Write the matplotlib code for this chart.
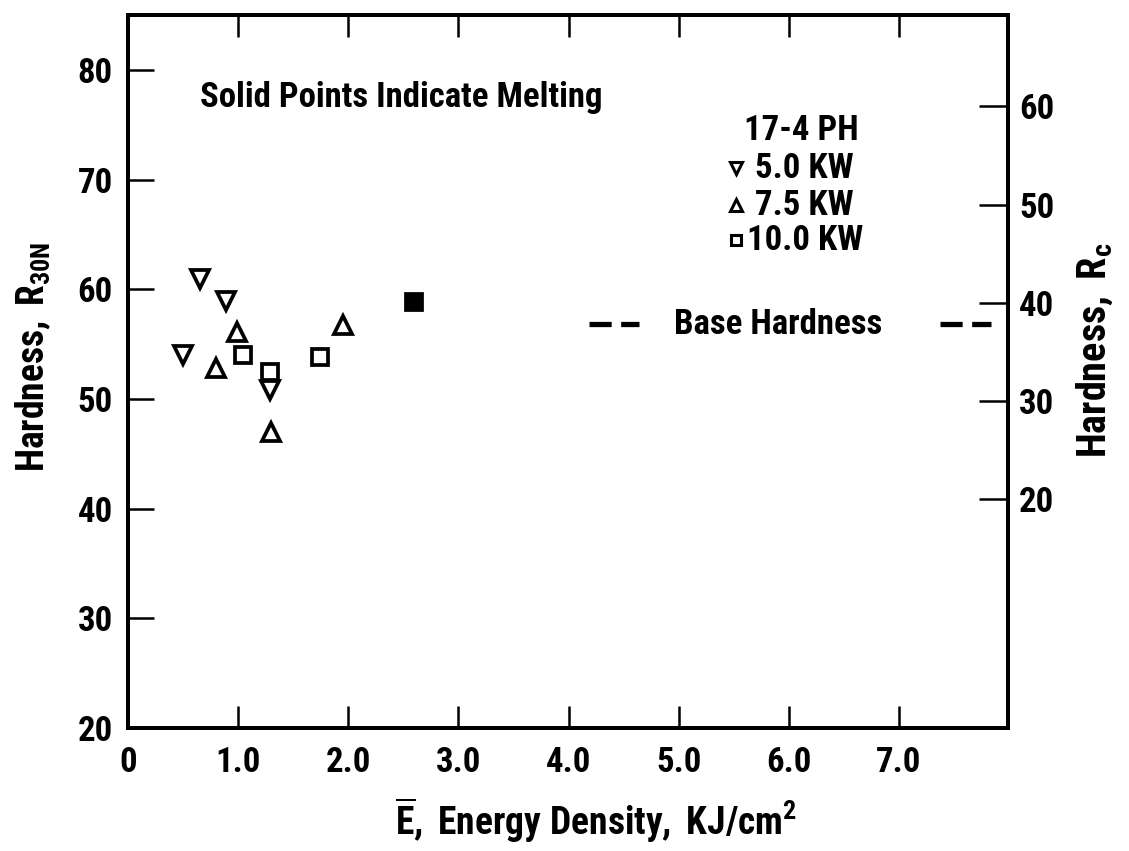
import matplotlib
matplotlib.use("Agg")
import matplotlib.pyplot as plt
from matplotlib import font_manager as fm

# ---------------- data ----------------
kw50_x = [0.50, 0.65, 0.89, 1.29]
kw50_y = [54.0, 60.9, 58.9, 50.8]

kw75_x = [0.80, 0.99, 1.30, 1.95]
kw75_y = [52.8, 56.1, 47.0, 56.7]

kw100_x = [1.04, 1.29, 1.74]
kw100_y = [54.0, 52.5, 53.8]

melt_x = [2.60]
melt_y = [58.8]

base_hardness = 56.8

x_ticks = [0, 1, 2, 3, 4, 5, 6, 7]
x_ticklabels = ["0", "1.0", "2.0", "3.0", "4.0", "5.0", "6.0", "7.0"]
y_ticks = [20, 30, 40, 50, 60, 70, 80]
rc_ticks = [20, 30, 40, 50, 60]

# ---------------- font ----------------
def pick_font(cands):
    for c in cands:
        try:
            fm.findfont(fm.FontProperties(family=c, weight="bold"), fallback_to_default=False)
            return c
        except Exception:
            continue
    return "DejaVu Sans"

FONT = pick_font(["Liberation Sans Narrow", "DejaVu Sans Condensed", "Roboto Condensed", "Open Sans Condensed", "Liberation Sans"])
plt.rcParams["font.family"] = [FONT, "DejaVu Sans"]
plt.rcParams["font.weight"] = "bold"
plt.rcParams["mathtext.fontset"] = "custom"
plt.rcParams["mathtext.rm"] = FONT + ":bold"
plt.rcParams["mathtext.bf"] = FONT + ":bold"
plt.rcParams["mathtext.it"] = FONT + ":bold"
plt.rcParams["mathtext.default"] = "rm"

FS = 25
LFS = 27

fig = plt.figure(figsize=(11.29, 8.51), dpi=100)
ax = fig.add_axes([128 / 1129, 1 - 728 / 851, (1008 - 128) / 1129, (728 - 15) / 851])

ax.set_xlim(0, 7.99)
ax.set_ylim(20, 85)

mk = dict(linestyle="none", markerfacecolor="white", markeredgecolor="black",
          markeredgewidth=2.7, zorder=5)
ax.plot(kw50_x, kw50_y, marker="v", markersize=13.5, **mk)
ax.plot(kw75_x, kw75_y, marker="^", markersize=13.5, **mk)
ax.plot(kw100_x, kw100_y, marker="s", markersize=11.5, **mk)
ax.plot(melt_x, melt_y, linestyle="none", marker="s", markersize=11.5,
        markerfacecolor="black", markeredgecolor="black", markeredgewidth=2.7, zorder=5)

# base hardness dashed markers
dash_kw = dict(color="black", linewidth=3.8, linestyle=(0, (4.2, 1.8)),
               dash_capstyle="butt")
ax.plot([4.19, 4.64], [base_hardness, base_hardness], **dash_kw)
ax.plot([7.37, 7.84], [base_hardness, base_hardness], **dash_kw)
ax.text(4.96, base_hardness, "Base Hardness", fontsize=FS, ha="left", va="center")

# annotations
ax.text(0.0816, 0.884, "Solid Points Indicate Melting", transform=ax.transAxes,
        fontsize=FS, ha="left", va="center")
ax.text(0.765, 0.838, "17-4 PH", transform=ax.transAxes, fontsize=FS, ha="center", va="center")
legend_rows = [("v", "5.0 KW", 0.785, 0.713), ("^", "7.5 KW", 0.733, 0.713), ("s", "10.0 KW", 0.684, 0.703)]
for m, lab, fy, fx in legend_rows:
    ax.plot([0.691], [fy], transform=ax.transAxes, marker=m, markersize=8 if m != "s" else 7,
            markerfacecolor="white", markeredgecolor="black", markeredgewidth=2.2,
            linestyle="none", clip_on=False)
    ax.text(fx, fy, lab, transform=ax.transAxes, fontsize=FS, ha="left", va="center")

# axes styling
for s in ax.spines.values():
    s.set_linewidth(2.8)
ax.set_xticks(x_ticks)
ax.set_xticklabels(x_ticklabels)
ax.set_yticks(y_ticks)
ax.tick_params(axis="x", direction="in", length=16, width=1.8, pad=13, labelsize=FS,
               top=True, labeltop=False)
ax.tick_params(axis="y", direction="in", length=19, width=1.8, pad=11, labelsize=FS)

ax.set_xlabel(r"$\overline{\mathrm{E}}\mathrm{,\ Energy\ Density,\ KJ/cm}^{\mathrm{2}}$", fontsize=LFS)
ax.xaxis.set_label_coords(0.532, -0.095)
ax.set_ylabel(r"$\mathrm{Hardness,\ R}_{\mathrm{30N}}$", fontsize=LFS)
ax.yaxis.set_label_coords(-0.085, 0.52)

ax2 = ax.twinx()
ax2.set_ylim(-3.36, 69.32)
ax2.set_yticks(rc_ticks)
ax2.tick_params(axis="y", direction="in", length=21, width=1.8, pad=8, labelsize=FS)
for s in ax2.spines.values():
    s.set_linewidth(2.8)
ax2.set_ylabel(r"$\mathrm{Hardness,\ R}_{\mathrm{c}}$", fontsize=29)
ax2.yaxis.set_label_coords(1.076, 0.53)

fig.savefig("out.png", dpi=100, facecolor="white")
